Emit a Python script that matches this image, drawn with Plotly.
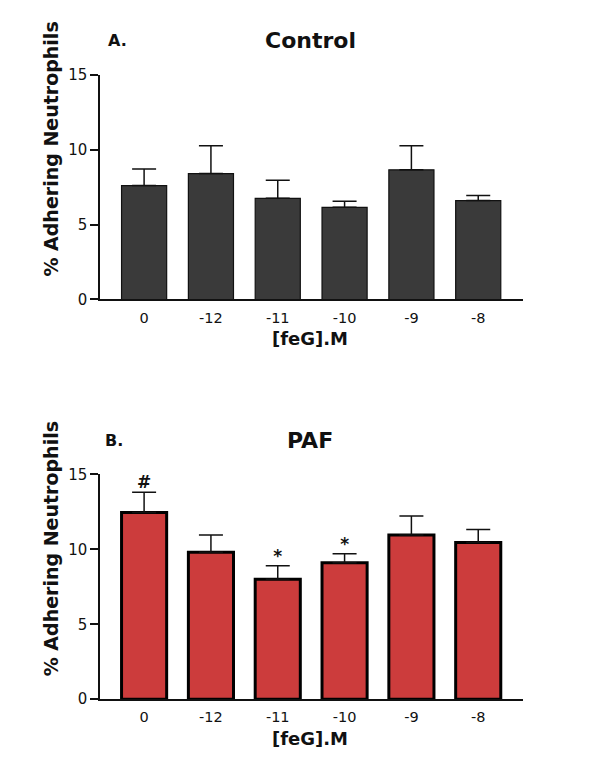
import plotly.graph_objects as go

doses = ['0', '-12', '-11', '-10', '-9', '-8']

control_mean = [7.6, 8.4, 6.75, 6.15, 8.65, 6.6]
control_sem = [1.1, 1.85, 1.2, 0.4, 1.6, 0.33]

paf_mean = [12.45, 9.8, 8.0, 9.1, 10.95, 10.45]
paf_sem = [1.35, 1.15, 0.9, 0.6, 1.27, 0.87]
paf_marks = ['#', '', '*', '*', '', '']

FONT = 'DejaVu Sans, Verdana, sans-serif'

# page has an 8px body margin, so the figure is a bit smaller than the window
OFF = 8
W, H = 600 - 2 * OFF, 776 - 2 * OFF
# the photo squeezes the page a little vertically; undo that
SY, DY = 0.977, 9.5


def px(x):
    return (x - OFF) / W


def py(y):
    return 1 - ((y - DY) / SY - OFF) / H


fig = go.Figure()

fig.add_trace(go.Bar(
    x=doses, y=control_mean, width=0.675,
    marker=dict(color='#3a3a3a', line=dict(color='#111111', width=1.2)),
    error_y=dict(type='data', array=control_sem, arrayminus=[0] * 6,
                 color='#111111', thickness=1.5, width=12),
    xaxis='x', yaxis='y', showlegend=False))

fig.add_trace(go.Bar(
    x=doses, y=paf_mean, width=0.675,
    marker=dict(color='#cc3c3c', line=dict(color='#000000', width=3)),
    error_y=dict(type='data', array=paf_sem, arrayminus=[0] * 6,
                 color='#111111', thickness=1.5, width=12),
    xaxis='x2', yaxis='y2', showlegend=False))

# significance marks above the error bars
fig.add_trace(go.Scatter(
    x=doses, y=[m + s for m, s in zip(paf_mean, paf_sem)],
    mode='text', text=paf_marks, texttemplate='<b>%{text}</b>',
    textposition='top center',
    textfont=dict(family=FONT, size=17, color='#111111'),
    xaxis='x2', yaxis='y2', showlegend=False, cliponaxis=False))

xax = dict(range=[-0.66, 5.67], showline=True, linecolor='#111111', linewidth=1.5,
           ticks='', showgrid=False, zeroline=False, ticklabelstandoff=4,
           tickfont=dict(family=FONT, size=14.5, color='#111111'))
yax = dict(range=[0, 15], tickvals=[0, 5, 10, 15], showline=True, linecolor='#111111',
           linewidth=1.5, ticks='outside', ticklen=8, tickwidth=1.5, tickcolor='#111111',
           showgrid=False, zeroline=False,
           tickfont=dict(family=FONT, size=15, color='#111111'))

fig.update_layout(
    width=W, height=H,
    margin=dict(l=0, r=0, t=0, b=0),
    paper_bgcolor='white', plot_bgcolor='white',
    xaxis=dict(xax, domain=[px(100), px(523)], anchor='y'),
    yaxis=dict(yax, domain=[py(300), py(75)], anchor='x'),
    xaxis2=dict(xax, domain=[px(100), px(523)], anchor='y2'),
    yaxis2=dict(yax, domain=[py(700), py(475)], anchor='x2'),
)


def label(text, x, y, size, angle=0):
    fig.add_annotation(text='<b>' + text + '</b>', x=px(x), y=py(y),
                       xref='paper', yref='paper', xanchor='center', yanchor='middle',
                       showarrow=False, textangle=angle,
                       font=dict(family=FONT, size=size, color='#111111'))


for top, name, letter, lx in [(0, 'Control', 'A.', 117), (400, 'PAF', 'B.', 114)]:
    label(letter, lx, top + 41, 16)
    label(name, 310, top + 41, 22)
    label('[feG].M', 310, top + 339, 18)
    label('% Adhering Neutrophils', 51, top + 150, 19, angle=-90)

fig.write_html('out.html')
